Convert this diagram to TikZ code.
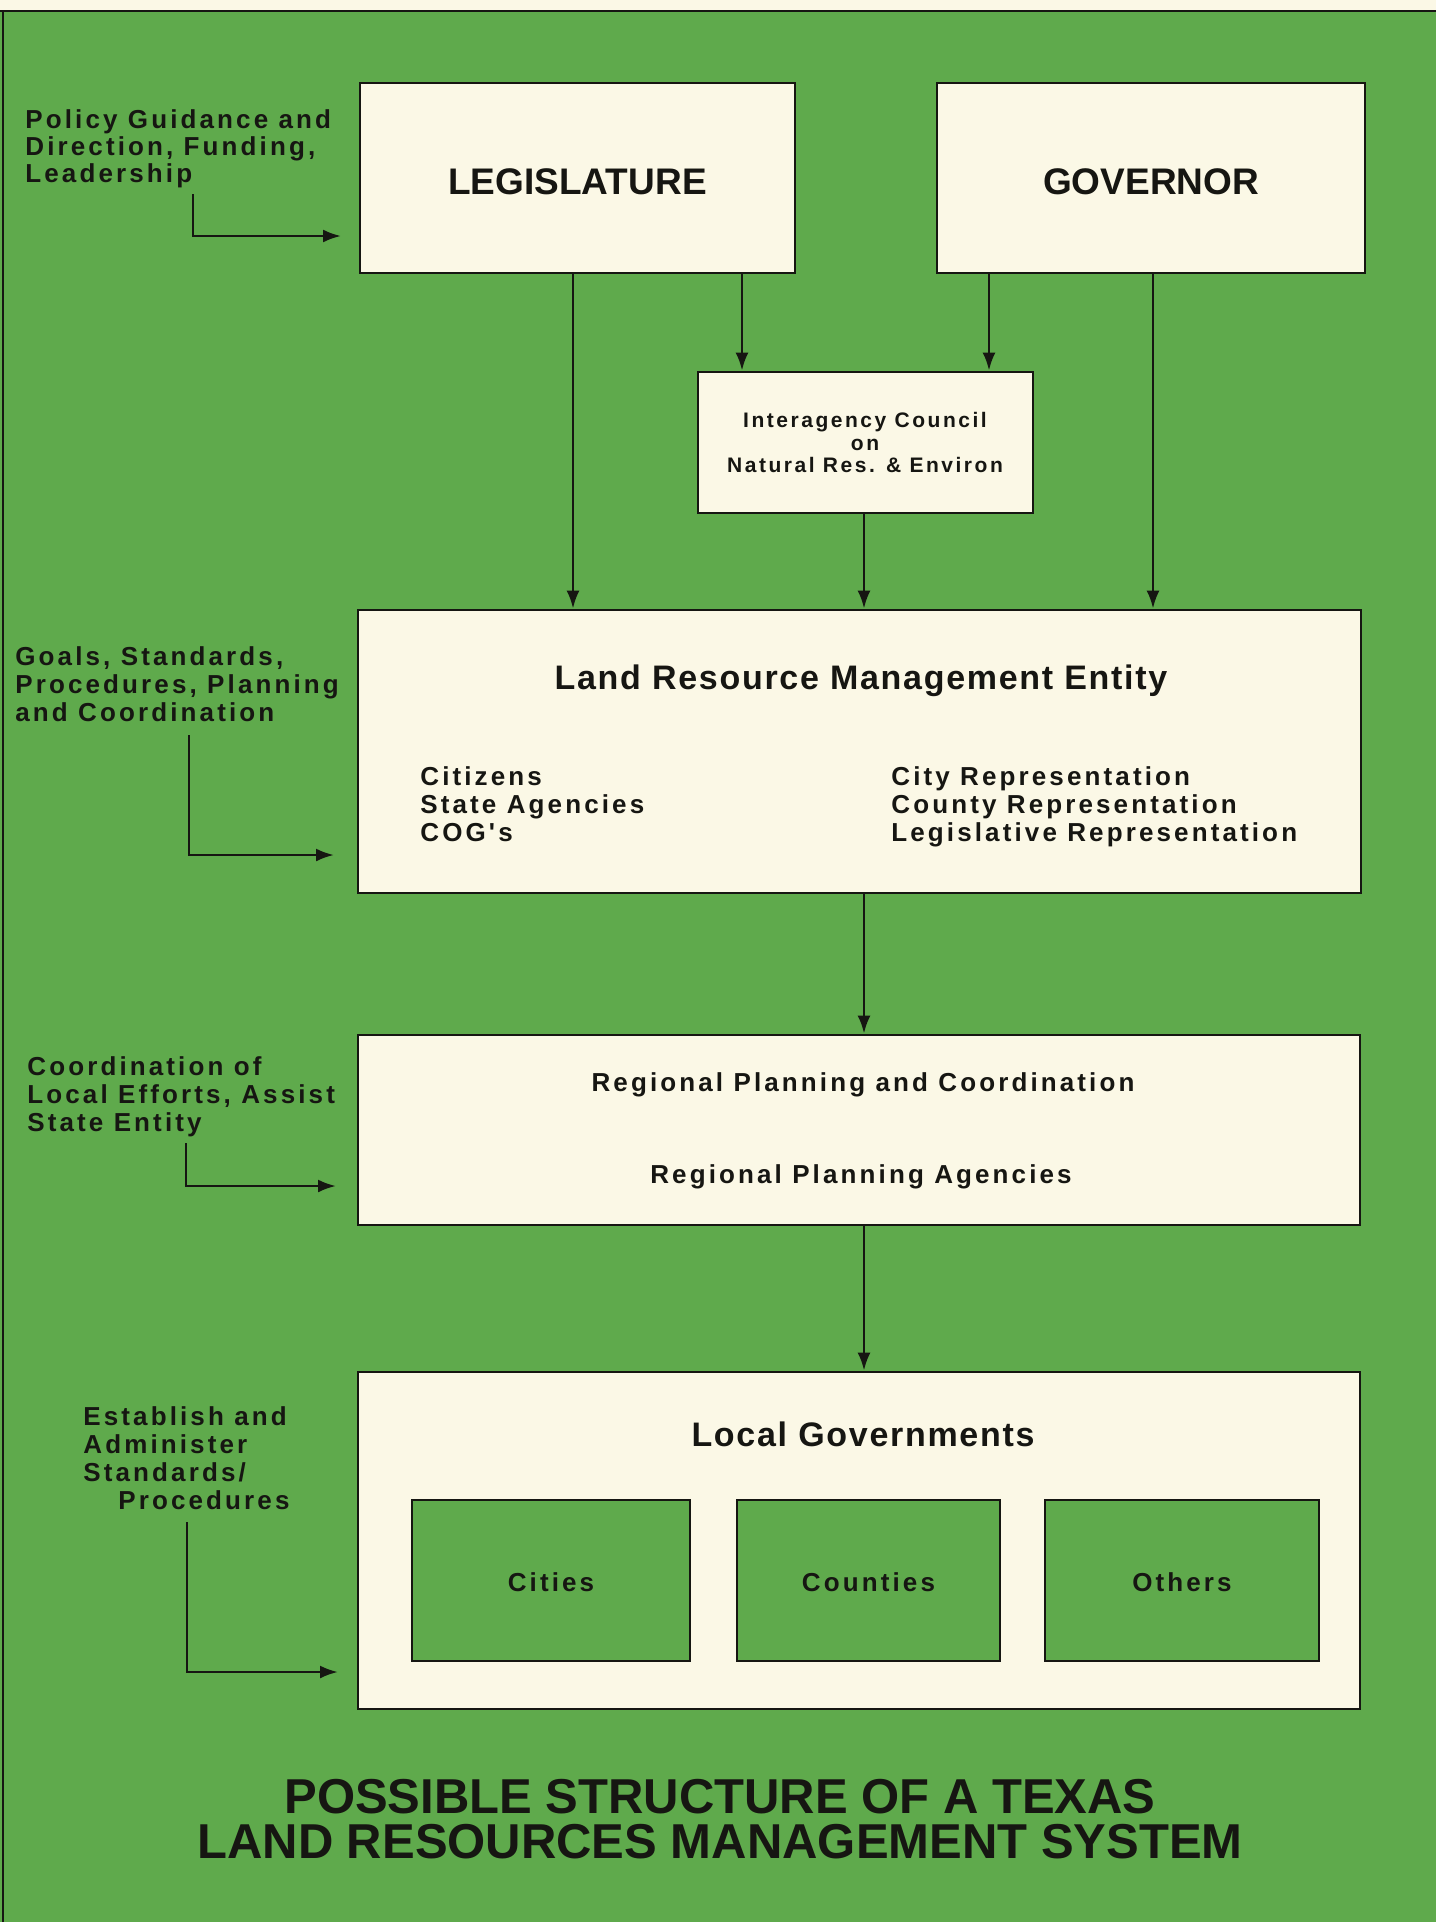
\documentclass[tikz,border=0pt]{standalone}
\usepackage{fontspec}
\setmainfont{Liberation Sans}
\newfontfamily\spacedfont{Liberation Sans}[LetterSpace=12]
\newfontfamily\semifont{Liberation Sans}[LetterSpace=5]
\usetikzlibrary{arrows.meta}
\definecolor{bggreen}{RGB}{95,170,76}
\definecolor{cream}{RGB}{251,248,230}
\definecolor{ink}{RGB}{22,22,18}
\begin{document}
\begin{tikzpicture}[x=0.5pt,y=-0.5pt,
  box/.style={draw=ink, line width=1.4pt, fill=cream, inner sep=0pt},
  gbox/.style={draw=ink, line width=1.4pt, fill=bggreen, inner sep=0pt},
  arr/.style={draw=ink, line width=1.3pt, -{Latex[length=9pt,width=6.5pt]}},
  side/.style={font=\spacedfont\bfseries\fontsize{13pt}{14pt}\selectfont, align=left, anchor=north west, inner sep=0pt, text=ink},
  big/.style={font=\bfseries\fontsize{18.5pt}{22pt}\selectfont, anchor=base, inner sep=0pt, text=ink},
  mid/.style={font=\semifont\bfseries\fontsize{17pt}{20pt}\selectfont, anchor=base, inner sep=0pt, text=ink},
  small/.style={font=\spacedfont\bfseries\fontsize{13pt}{14pt}\selectfont, inner sep=0pt, text=ink},
  tiny/.style={font=\spacedfont\bfseries\fontsize{10.5pt}{11.25pt}\selectfont, align=center, anchor=north, inner sep=0pt, text=ink}
]
\useasboundingbox (0,0) rectangle (1436,1922);
% background
\fill[bggreen] (0,0) rectangle (1436,1922);
\fill[cream] (0,0) rectangle (1436,10);
\draw[ink, line width=1.2pt] (0,11) -- (1436,11);
\draw[ink, line width=1.2pt] (3,11) -- (3,1922);

% boxes
\node[box, minimum width=217.5pt, minimum height=95pt] (leg) at (577.5,178) {};
\node[box, minimum width=214pt, minimum height=95pt] (gov) at (1151,178) {};
\node[box, minimum width=167.5pt, minimum height=70.5pt] (iac) at (865.5,442.5) {};
\node[box, minimum width=501.5pt, minimum height=141.5pt] (lrm) at (859.5,751.5) {};
\node[box, minimum width=501pt, minimum height=95pt] (rpc) at (859,1130) {};
\node[box, minimum width=501pt, minimum height=168.5pt] (loc) at (859,1540.5) {};
\node[gbox, minimum width=139pt, minimum height=80.5pt] (cit) at (551,1580.5) {};
\node[gbox, minimum width=131.5pt, minimum height=80.5pt] (cty) at (868.5,1580.5) {};
\node[gbox, minimum width=137pt, minimum height=80.5pt] (oth) at (1182,1580.5) {};

% box texts
\node[big] (legt) at (577.5,194) {LEGISLATURE};
\node[big] (govt) at (1151,194) {GOVERNOR};
\node[tiny] (iact) at (865,412) {Interagency Council\\on\\Natural Res. \& Environ};
\node[mid] (lrmt) at (861,689) {Land Resource Management Entity};
\node[small, align=left, anchor=north west] (lrml) at (420,766) {Citizens\\State Agencies\\COG's};
\node[small, align=left, anchor=north west] (lrmr) at (891,766) {City Representation\\County Representation\\Legislative Representation};
\node[small, anchor=base] (rpct) at (863,1091) {Regional Planning and Coordination};
\node[small, anchor=base] (rpca) at (861,1183) {Regional Planning Agencies};
\node[mid] (loct) at (863,1446) {Local Governments};
\node[small, anchor=base] (citt) at (cit.center |- 0,1591) {Cities};
\node[small, anchor=base] (ctyt) at (cty.center |- 0,1591) {Counties};
\node[small, anchor=base] (otht) at (oth.center |- 0,1591) {Others};

% title
\node[font=\bfseries\fontsize{24.5pt}{22.5pt}\selectfont, align=center, anchor=north, inner sep=0pt, text=ink] (title) at (720,1779) {POSSIBLE STRUCTURE OF A TEXAS\\LAND RESOURCES MANAGEMENT SYSTEM};

% side labels
\node[side, font=\spacedfont\bfseries\fontsize{13pt}{13.4pt}\selectfont] (s1) at (25,109.5) {Policy Guidance and\\Direction, Funding,\\Leadership};
\node[side] (s2) at (15,646.5) {Goals, Standards,\\Procedures, Planning\\and Coordination};
\node[side] (s3) at (27,1056.5) {Coordination of\\Local Efforts, Assist\\State Entity};
\node[side] (s4) at (83,1406.5) {Establish and\\Administer\\Standards/\\\hspace*{17.5pt}Procedures};

% vertical connectors
\draw[arr] (leg.south -| 573,0) -- (lrm.north -| 573,0);
\draw[arr] (leg.south -| 742,0) -- (iac.north -| 742,0);
\draw[arr] (gov.south -| 989,0) -- (iac.north -| 989,0);
\draw[arr] (gov.south -| 1153,0) -- (lrm.north -| 1153,0);
\draw[arr] (iac.south -| 864,0) -- (lrm.north -| 864,0);
\draw[arr] (lrm.south -| 864,0) -- (rpc.north -| 864,0);
\draw[arr] (rpc.south -| 864,0) -- (loc.north -| 864,0);

% elbow arrows
\coordinate (e1s) at (193,194);  \coordinate (e1e) at (341,236);
\coordinate (e2s) at (189,735);  \coordinate (e2e) at (334,855);
\coordinate (e3s) at (186,1143); \coordinate (e3e) at (336,1186);
\coordinate (e4s) at (187,1522); \coordinate (e4e) at (338,1672);
\draw[arr] (e1s) |- (e1e);
\draw[arr] (e2s) |- (e2e);
\draw[arr] (e3s) |- (e3e);
\draw[arr] (e4s) |- (e4e);
\end{tikzpicture}
\end{document}
